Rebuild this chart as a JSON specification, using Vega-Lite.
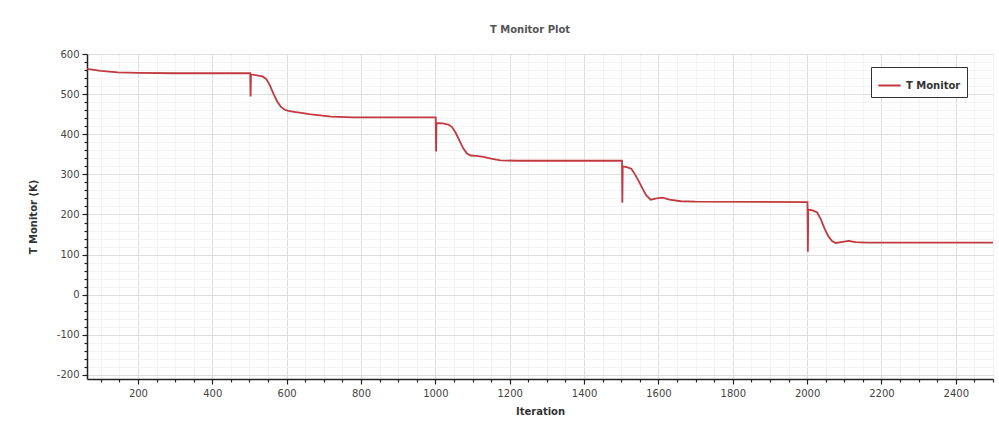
{
  "$schema": "https://vega.github.io/schema/vega-lite/v6.json",
  "width": 906,
  "height": 325,
  "autosize": {"type": "none"},
  "padding": {"left": 87, "top": 54, "right": 6, "bottom": 52},
  "background": "white",
  "title": {
    "text": "T Monitor Plot",
    "font": "DejaVu Sans",
    "fontSize": 10,
    "fontWeight": "bold",
    "color": "#555555",
    "anchor": "middle",
    "dx": -10,
    "offset": 14
  },
  "config": {
    "view": {"stroke": null},
    "axis": {
      "labelFont": "DejaVu Sans",
      "labelFontSize": 10,
      "labelColor": "#444444",
      "titleFont": "DejaVu Sans",
      "titleFontSize": 10,
      "titleFontWeight": "bold",
      "titleColor": "#333333",
      "domainColor": "#222222",
      "domainWidth": 1.5,
      "tickColor": "#222222",
      "tickWidth": 1.2
    }
  },
  "data": {
    "values": [
      {"iteration": 63, "t": 563, "series": "T Monitor"},
      {"iteration": 100, "t": 558, "series": "T Monitor"},
      {"iteration": 146, "t": 554, "series": "T Monitor"},
      {"iteration": 200, "t": 553, "series": "T Monitor"},
      {"iteration": 300, "t": 552, "series": "T Monitor"},
      {"iteration": 502, "t": 552, "series": "T Monitor"},
      {"iteration": 503, "t": 494, "series": "T Monitor"},
      {"iteration": 504, "t": 549, "series": "T Monitor"},
      {"iteration": 520, "t": 547, "series": "T Monitor"},
      {"iteration": 535, "t": 544, "series": "T Monitor"},
      {"iteration": 545, "t": 538, "series": "T Monitor"},
      {"iteration": 555, "t": 522, "series": "T Monitor"},
      {"iteration": 565, "t": 500, "series": "T Monitor"},
      {"iteration": 575, "t": 481, "series": "T Monitor"},
      {"iteration": 585, "t": 468, "series": "T Monitor"},
      {"iteration": 595, "t": 461, "series": "T Monitor"},
      {"iteration": 605, "t": 458, "series": "T Monitor"},
      {"iteration": 620, "t": 456, "series": "T Monitor"},
      {"iteration": 640, "t": 453, "series": "T Monitor"},
      {"iteration": 660, "t": 450, "series": "T Monitor"},
      {"iteration": 690, "t": 447, "series": "T Monitor"},
      {"iteration": 720, "t": 444, "series": "T Monitor"},
      {"iteration": 780, "t": 442, "series": "T Monitor"},
      {"iteration": 1001, "t": 442, "series": "T Monitor"},
      {"iteration": 1002, "t": 357, "series": "T Monitor"},
      {"iteration": 1003, "t": 428, "series": "T Monitor"},
      {"iteration": 1020, "t": 427, "series": "T Monitor"},
      {"iteration": 1035, "t": 424, "series": "T Monitor"},
      {"iteration": 1045, "t": 418, "series": "T Monitor"},
      {"iteration": 1055, "t": 403, "series": "T Monitor"},
      {"iteration": 1065, "t": 384, "series": "T Monitor"},
      {"iteration": 1075, "t": 365, "series": "T Monitor"},
      {"iteration": 1085, "t": 352, "series": "T Monitor"},
      {"iteration": 1095, "t": 347, "series": "T Monitor"},
      {"iteration": 1110, "t": 346, "series": "T Monitor"},
      {"iteration": 1126, "t": 344, "series": "T Monitor"},
      {"iteration": 1150, "t": 339, "series": "T Monitor"},
      {"iteration": 1175, "t": 335, "series": "T Monitor"},
      {"iteration": 1220, "t": 334, "series": "T Monitor"},
      {"iteration": 1502, "t": 334, "series": "T Monitor"},
      {"iteration": 1503, "t": 229, "series": "T Monitor"},
      {"iteration": 1504, "t": 320, "series": "T Monitor"},
      {"iteration": 1515, "t": 318, "series": "T Monitor"},
      {"iteration": 1527, "t": 314, "series": "T Monitor"},
      {"iteration": 1537, "t": 300, "series": "T Monitor"},
      {"iteration": 1547, "t": 283, "series": "T Monitor"},
      {"iteration": 1557, "t": 265, "series": "T Monitor"},
      {"iteration": 1567, "t": 248, "series": "T Monitor"},
      {"iteration": 1579, "t": 237, "series": "T Monitor"},
      {"iteration": 1595, "t": 240, "series": "T Monitor"},
      {"iteration": 1611, "t": 242, "series": "T Monitor"},
      {"iteration": 1630, "t": 237, "series": "T Monitor"},
      {"iteration": 1660, "t": 233, "series": "T Monitor"},
      {"iteration": 1700, "t": 232, "series": "T Monitor"},
      {"iteration": 2001, "t": 231, "series": "T Monitor"},
      {"iteration": 2002, "t": 107, "series": "T Monitor"},
      {"iteration": 2003, "t": 212, "series": "T Monitor"},
      {"iteration": 2015, "t": 210, "series": "T Monitor"},
      {"iteration": 2027, "t": 205, "series": "T Monitor"},
      {"iteration": 2037, "t": 188, "series": "T Monitor"},
      {"iteration": 2047, "t": 165, "series": "T Monitor"},
      {"iteration": 2057, "t": 146, "series": "T Monitor"},
      {"iteration": 2067, "t": 134, "series": "T Monitor"},
      {"iteration": 2077, "t": 129, "series": "T Monitor"},
      {"iteration": 2095, "t": 132, "series": "T Monitor"},
      {"iteration": 2112, "t": 134, "series": "T Monitor"},
      {"iteration": 2130, "t": 131, "series": "T Monitor"},
      {"iteration": 2160, "t": 130, "series": "T Monitor"},
      {"iteration": 2500, "t": 130, "series": "T Monitor"}
    ]
  },
  "mark": {"type": "line", "strokeWidth": 1.8, "clip": true},
  "encoding": {
    "x": {
      "field": "iteration",
      "type": "quantitative",
      "scale": {"domain": [63, 2500], "nice": false, "zero": false},
      "axis": {
        "title": "Iteration",
        "titlePadding": 8,
        "values": [100,150,200,250,300,350,400,450,500,550,600,650,700,750,800,850,900,950,1000,1050,1100,1150,1200,1250,1300,1350,1400,1450,1500,1550,1600,1650,1700,1750,1800,1850,1900,1950,2000,2050,2100,2150,2200,2250,2300,2350,2400,2450,2500],
        "labelExpr": "datum.value % 200 == 0 && datum.value < 2500 ? '' + datum.value : ''",
        "labelPadding": 4,
        "tickSize": {"condition": {"test": "datum.value % 200 == 0", "value": 5}, "value": 3},
        "gridColor": {"condition": {"test": "datum.value % 200 == 0", "value": "#dddddd"}, "value": "#f3f3f3"},
        "grid": true
      }
    },
    "y": {
      "field": "t",
      "type": "quantitative",
      "scale": {"domain": [-210, 600], "nice": false, "zero": false},
      "axis": {
        "title": "T Monitor (K)",
        "titlePadding": 18,
        "values": [-200,-180,-160,-140,-120,-100,-80,-60,-40,-20,0,20,40,60,80,100,120,140,160,180,200,220,240,260,280,300,320,340,360,380,400,420,440,460,480,500,520,540,560,580,600],
        "labelExpr": "datum.value % 100 == 0 ? '' + datum.value : ''",
        "labelPadding": 3,
        "tickSize": {"condition": {"test": "datum.value % 100 == 0", "value": 5}, "value": 3},
        "gridColor": {"condition": {"test": "datum.value % 100 == 0", "value": "#dddddd"}, "value": "#f3f3f3"},
        "grid": true
      }
    },
    "color": {
      "field": "series",
      "type": "nominal",
      "scale": {"range": ["#c2393f"]},
      "legend": {
        "title": null,
        "orient": "none",
        "legendX": 784,
        "legendY": 13,
        "strokeColor": "#333333",
        "fillColor": "white",
        "padding": 6,
        "symbolType": "stroke",
        "symbolSize": 500,
        "symbolStrokeWidth": 2,
        "labelFont": "DejaVu Sans",
        "labelFontSize": 10,
        "labelFontWeight": "bold",
        "labelColor": "#333333"
      }
    }
  }
}
